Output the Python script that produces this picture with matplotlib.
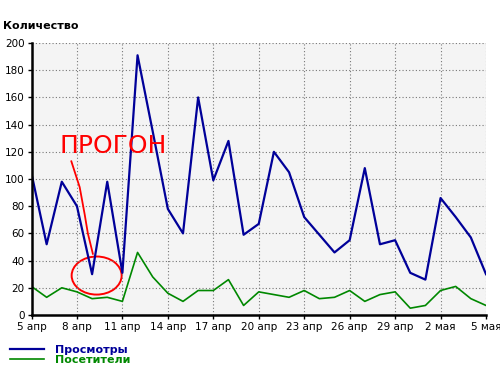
import matplotlib.pyplot as plt
from matplotlib.patches import Ellipse

tick_labels = ["5 апр", "8 апр", "11 апр", "14 апр", "17 апр", "20 апр",
               "23 апр", "26 апр", "29 апр", "2 мая", "5 мая"]

# daily values, 5 Apr .. 5 May
views = [104, 52, 98, 80, 30, 98, 31, 191, 135, 78, 60, 160, 99, 128, 59, 67,
         120, 105, 72, 59, 46, 55, 108, 52, 55, 31, 26, 86, 72, 57, 30]
visitors = [21, 13, 20, 17, 12, 13, 10, 46, 28, 16, 10, 18, 18, 26, 7, 17,
            15, 13, 18, 12, 13, 18, 10, 15, 17, 5, 7, 18, 21, 12, 7]

days = list(range(len(views)))

fig = plt.figure(figsize=(5, 3.71), dpi=100)
ax = fig.add_axes([0.063, 0.151, 0.909, 0.733])
ax.set_facecolor('#f4f4f4')

ax.plot(days, views, color='#000099', lw=1.6, label='Просмотры')
ax.plot(days, visitors, color='#008800', lw=1.2, label='Посетители')

ax.set_xlim(0, 30)
ax.set_ylim(0, 200)
ax.set_xticks(days[::3])
ax.set_xticklabels(tick_labels)
ax.set_yticks(range(0, 201, 20))
ax.tick_params(labelsize=7.5, length=3, width=1, pad=2)

ax.grid(True, color='#777777', linestyle=(0, (1, 2)), linewidth=0.8)
for s in ['top', 'right']:
    ax.spines[s].set_visible(False)
ax.spines['left'].set_linewidth(1.8)
ax.spines['bottom'].set_linewidth(1.8)

fig.text(0.006, 0.922, 'Количество', fontsize=8, fontweight='bold')

# hand-drawn note
ax.text(5.4, 124, 'ПРОГОН', color='red', fontsize=18, ha='center', va='center')
note_x = [2.63, 3.18, 3.51, 3.72, 4.05]
note_y = [113, 94, 74, 60, 45]
ax.plot(note_x, note_y, color='red', lw=1.3)
ax.add_patch(Ellipse((4.3, 29), 3.3, 28, fill=False, edgecolor='red', lw=1.4))

fig.legend(loc='upper left', bbox_to_anchor=(0.012, 0.083), frameon=False,
           prop={'weight': 'bold', 'size': 8}, labelcolor='linecolor',
           handlelength=3.0, handletextpad=1.0, labelspacing=0.05,
           borderaxespad=0)

fig.savefig('out.png', dpi=100)
